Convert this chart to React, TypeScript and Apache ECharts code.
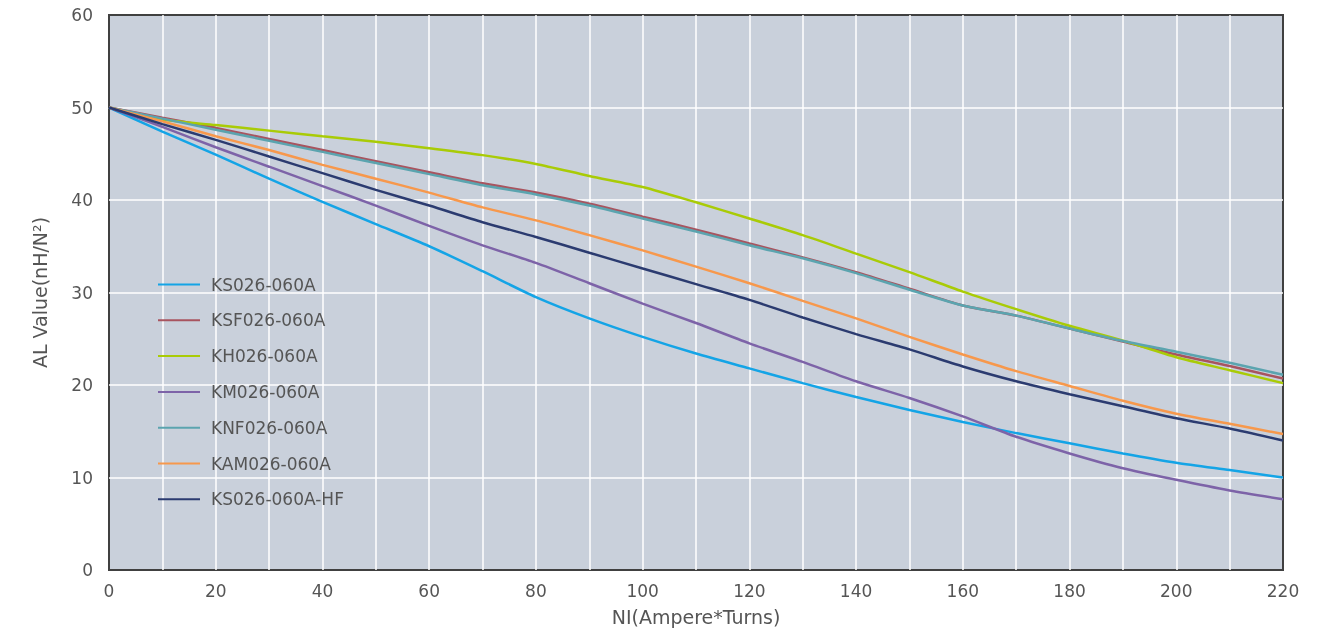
import React, { useEffect, useRef } from "react";
import * as echarts from "echarts";

const xValues = [0, 10, 20, 30, 40, 50, 60, 70, 80, 90, 100, 110, 120, 130, 140, 150, 160, 170, 180, 190, 200, 210, 220];

const seriesNames = ["KS026-060A", "KSF026-060A", "KH026-060A", "KM026-060A", "KNF026-060A", "KAM026-060A", "KS026-060A-HF"];

const ks = [50, 47.4, 44.9, 42.3, 39.8, 37.4, 35.0, 32.3, 29.5, 27.2, 25.2, 23.4, 21.8, 20.2, 18.7, 17.3, 16.0, 14.8, 13.7, 12.6, 11.6, 10.8, 10.0];
const ksf = [50, 48.9, 47.8, 46.6, 45.4, 44.2, 43.0, 41.8, 40.8, 39.6, 38.2, 36.8, 35.3, 33.8, 32.2, 30.4, 28.6, 27.5, 26.1, 24.7, 23.3, 22.05, 20.7];
const kh = [50, 48.7, 48.1, 47.5, 46.9, 46.3, 45.6, 44.85, 43.9, 42.6, 41.4, 39.75, 38.0, 36.2, 34.2, 32.2, 30.1, 28.2, 26.4, 24.8, 23.0, 21.6, 20.2];
const km = [50, 47.9, 45.7, 43.6, 41.5, 39.4, 37.2, 35.1, 33.2, 31.0, 28.8, 26.7, 24.5, 22.5, 20.4, 18.6, 16.6, 14.4, 12.6, 11.0, 9.75, 8.6, 7.65];
const knf = [50, 48.8, 47.6, 46.4, 45.2, 44.0, 42.8, 41.6, 40.6, 39.4, 38.0, 36.6, 35.1, 33.7, 32.1, 30.3, 28.6, 27.5, 26.1, 24.75, 23.6, 22.4, 21.1];
const kam = [50, 48.5, 46.9, 45.4, 43.8, 42.3, 40.8, 39.2, 37.8, 36.2, 34.55, 32.8, 31.0, 29.1, 27.2, 25.2, 23.3, 21.5, 19.9, 18.3, 16.9, 15.8, 14.7];
const kshf = [50, 48.2, 46.5, 44.7, 42.9, 41.1, 39.4, 37.6, 36.0, 34.3, 32.6, 30.9, 29.2, 27.3, 25.5, 23.85, 22.0, 20.4, 19.0, 17.7, 16.4, 15.3, 14.0];

const allValues = [ks, ksf, kh, km, knf, kam, kshf];
const colors = ["#14a4e6", "#a8545f", "#a9cb06", "#7d63a8", "#5ba4af", "#f7984c", "#2b3b70"];

export default function App() {
  const ref = useRef<HTMLDivElement>(null);
  useEffect(() => {
    if (!ref.current) return;
    const chart = echarts.init(ref.current, null, { renderer: "svg" });
    const font = "'DejaVu Sans', Verdana, sans-serif";
    chart.setOption({
      animation: false,
      textStyle: { fontFamily: font },
      grid: {
        left: 109,
        right: 45,
        top: 15,
        bottom: 62,
        show: true,
        backgroundColor: "#c9d0db",
        borderColor: "#404040",
        borderWidth: 2,
      },
      legend: {
        orient: "vertical",
        left: 153,
        top: 271,
        icon: "rect",
        itemWidth: 42,
        itemHeight: 2,
        itemGap: 18.8,
        data: seriesNames,
        textStyle: { fontFamily: font, fontSize: 17, color: "#555555", padding: [0, 0, 0, 6], lineHeight: 16 },
      },
      xAxis: {
        type: "value",
        min: 0,
        max: 220,
        interval: 10,
        name: "NI(Ampere*Turns)",
        nameLocation: "middle",
        nameGap: 37,
        nameTextStyle: { fontFamily: font, fontSize: 19, color: "#555555" },
        axisLine: { show: false },
        axisTick: { show: false },
        axisLabel: {
          fontFamily: font,
          fontSize: 17,
          color: "#555555",
          margin: 12,
          formatter: (v: number) => (v % 20 === 0 ? String(v) : ""),
        },
        splitLine: { show: true, showMinLine: false, showMaxLine: false, lineStyle: { color: "#ffffff", width: 1.5 } },
      },
      yAxis: {
        type: "value",
        min: 0,
        max: 60,
        interval: 10,
        name: "AL Value(nH/N²)",
        nameLocation: "middle",
        nameGap: 60,
        nameTextStyle: { fontFamily: font, fontSize: 19, color: "#555555" },
        axisLine: { show: false },
        axisTick: { show: false },
        axisLabel: { fontFamily: font, fontSize: 17, color: "#555555", margin: 16 },
        splitLine: { show: true, showMinLine: false, showMaxLine: false, lineStyle: { color: "#ffffff", width: 1.5 } },
      },
      series: seriesNames.map((name, i) => ({
        name,
        type: "line",
        data: xValues.map((x, j) => [x, allValues[i][j]]),
        showSymbol: false,
        symbol: "none",
        smooth: 0.25,
        lineStyle: { color: colors[i], width: 2.5 },
        itemStyle: { color: colors[i] },
      })),
    });
    return () => chart.dispose();
  }, []);
  return <div ref={ref} style={{ position: "fixed", left: 0, top: 0, width: 1328, height: 632 }} />;
}
